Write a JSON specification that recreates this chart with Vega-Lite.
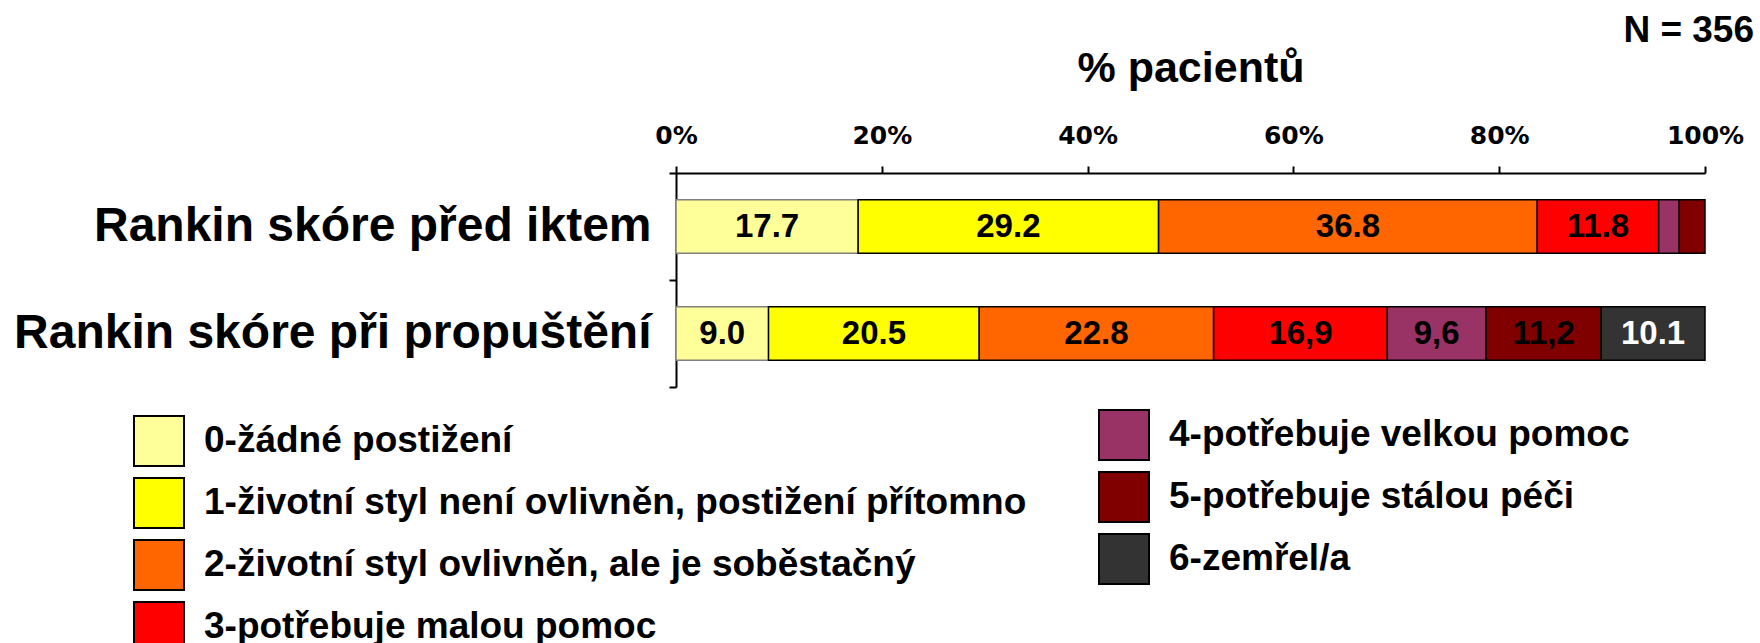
{
  "$schema": "https://vega.github.io/schema/vega-lite/v6.json",
  "autosize": {"type": "none"},
  "width": 1029,
  "height": 214,
  "padding": {"left": 676, "top": 173, "right": 55, "bottom": 256},
  "background": "white",
  "title": {"text": "N = 356", "anchor": "end", "frame": "group", "dx": 49, "dy": 7, "offset": 4, "font": "Liberation Sans", "fontSize": 37, "fontWeight": "bold", "color": "black"},
  "data": {"values": [
    {"row": "Rankin skóre před iktem", "cat": "0-žádné postižení", "value": 17.7, "label": "17.7"},
    {"row": "Rankin skóre před iktem", "cat": "1-životní styl není ovlivněn, postižení přítomno", "value": 29.2, "label": "29.2"},
    {"row": "Rankin skóre před iktem", "cat": "2-životní styl ovlivněn, ale je soběstačný", "value": 36.8, "label": "36.8"},
    {"row": "Rankin skóre před iktem", "cat": "3-potřebuje malou pomoc", "value": 11.8, "label": "11.8"},
    {"row": "Rankin skóre před iktem", "cat": "4-potřebuje velkou pomoc", "value": 2.0, "label": ""},
    {"row": "Rankin skóre před iktem", "cat": "5-potřebuje stálou péči", "value": 2.5, "label": ""},
    {"row": "Rankin skóre při propuštění", "cat": "0-žádné postižení", "value": 9.0, "label": "9.0"},
    {"row": "Rankin skóre při propuštění", "cat": "1-životní styl není ovlivněn, postižení přítomno", "value": 20.5, "label": "20.5"},
    {"row": "Rankin skóre při propuštění", "cat": "2-životní styl ovlivněn, ale je soběstačný", "value": 22.8, "label": "22.8"},
    {"row": "Rankin skóre při propuštění", "cat": "3-potřebuje malou pomoc", "value": 16.9, "label": "16,9"},
    {"row": "Rankin skóre při propuštění", "cat": "4-potřebuje velkou pomoc", "value": 9.6, "label": "9,6"},
    {"row": "Rankin skóre při propuštění", "cat": "5-potřebuje stálou péči", "value": 11.2, "label": "11,2"},
    {"row": "Rankin skóre při propuštění", "cat": "6-zemřel/a", "value": 10.1, "label": "10.1"}
  ]},
  "transform": [
    {"stack": "value", "groupby": ["row"], "sort": [{"field": "cat", "order": "ascending"}], "offset": "normalize", "as": ["x0", "x1"]}
  ],
  "encoding": {
    "y": {
      "field": "row", "type": "nominal",
      "scale": {"domain": ["Rankin skóre před iktem", "Rankin skóre při propuštění"], "paddingInner": 0, "paddingOuter": 0},
      "axis": {"title": null, "labelFont": "Liberation Sans", "labelFontSize": 48, "labelFontWeight": "bold", "labelColor": "black", "labelLimit": 0, "labelPadding": 18, "tickSize": 7, "tickWidth": 2, "tickColor": "black", "domainColor": "black", "domainWidth": 2, "tickBand": "extent"}
    }
  },
  "layer": [
    {
      "transform": [{"filter": {"field": "cat", "oneOf": ["0-žádné postižení", "1-životní styl není ovlivněn, postižení přítomno", "2-životní styl ovlivněn, ale je soběstačný", "3-potřebuje malou pomoc"]}}],
      "mark": {"type": "bar", "height": {"band": 0.5}, "strokeWidth": 1.5},
      "encoding": {
        "x": {
          "field": "x0", "type": "quantitative",
          "scale": {"domain": [0, 1], "nice": false},
          "axis": {"orient": "top", "format": ".0%", "values": [0, 0.2, 0.4, 0.6, 0.8, 1], "grid": false, "title": "% pacientů", "titleFont": "Liberation Sans", "titleFontSize": 43, "titleFontWeight": "bold", "titleColor": "black", "titlePadding": 33, "labelFont": "DejaVu Sans", "labelFontSize": 25, "labelFontWeight": "bold", "labelColor": "black", "labelPadding": 18, "labelFlush": false, "labelOverlap": false, "tickSize": 7, "tickWidth": 2, "tickColor": "black", "domainColor": "black", "domainWidth": 2}
        },
        "x2": {"field": "x1"},
        "fill": {
          "field": "cat", "type": "nominal",
          "scale": {"domain": ["0-žádné postižení", "1-životní styl není ovlivněn, postižení přítomno", "2-životní styl ovlivněn, ale je soběstačný", "3-potřebuje malou pomoc"], "range": ["#FFFF99", "#FFFF00", "#FF6600", "#FF0000"]},
          "legend": {"orient": "none", "legendX": -543, "legendY": 242, "title": null, "direction": "vertical", "padding": 0, "symbolType": "square", "symbolSize": 2500, "symbolStrokeColor": "black", "symbolStrokeWidth": 2, "symbolOpacity": 1, "labelFont": "Liberation Sans", "labelFontSize": 37, "labelFontWeight": "bold", "labelColor": "black", "labelOffset": 19, "labelLimit": 0, "rowPadding": 4}
        },
        "stroke": {"condition": {"test": "datum.cat === '0-žádné postižení'", "value": "#808080"}, "value": "black"}
      }
    },
    {
      "transform": [{"filter": {"field": "cat", "oneOf": ["4-potřebuje velkou pomoc", "5-potřebuje stálou péči", "6-zemřel/a"]}}],
      "mark": {"type": "bar", "height": {"band": 0.5}, "strokeWidth": 1.5, "stroke": "black"},
      "encoding": {
        "x": {
          "field": "x0", "type": "quantitative",
          "axis": {"orient": "top", "format": ".0%", "values": [0, 0.2, 0.4, 0.6, 0.8, 1], "grid": false, "title": "% pacientů", "titleFont": "Liberation Sans", "titleFontSize": 43, "titleFontWeight": "bold", "titleColor": "black", "titlePadding": 33, "labelFont": "DejaVu Sans", "labelFontSize": 25, "labelFontWeight": "bold", "labelColor": "black", "labelPadding": 18, "labelFlush": false, "labelOverlap": false, "tickSize": 7, "tickWidth": 2, "tickColor": "black", "domainColor": "black", "domainWidth": 2}
        },
        "x2": {"field": "x1"},
        "fill": {
          "field": "cat", "type": "nominal",
          "scale": {"domain": ["4-potřebuje velkou pomoc", "5-potřebuje stálou péči", "6-zemřel/a"], "range": ["#993366", "#800000", "#333333"]},
          "legend": {"orient": "none", "legendX": 422, "legendY": 236, "title": null, "direction": "vertical", "padding": 0, "symbolType": "square", "symbolSize": 2500, "symbolStrokeColor": "black", "symbolStrokeWidth": 2, "symbolOpacity": 1, "labelFont": "Liberation Sans", "labelFontSize": 37, "labelFontWeight": "bold", "labelColor": "black", "labelOffset": 19, "labelLimit": 0, "rowPadding": 4}
        }
      }
    },
    {
      "mark": {"type": "text", "font": "Liberation Sans", "fontSize": 33, "fontWeight": "bold", "align": "center", "baseline": "middle"},
      "encoding": {
        "x": {
          "field": "value", "type": "quantitative", "stack": "normalize", "bandPosition": 0.5,
          "axis": {"orient": "top", "format": ".0%", "values": [0, 0.2, 0.4, 0.6, 0.8, 1], "grid": false, "title": "% pacientů", "titleFont": "Liberation Sans", "titleFontSize": 43, "titleFontWeight": "bold", "titleColor": "black", "titlePadding": 33, "labelFont": "DejaVu Sans", "labelFontSize": 25, "labelFontWeight": "bold", "labelColor": "black", "labelPadding": 18, "labelFlush": false, "labelOverlap": false, "tickSize": 7, "tickWidth": 2, "tickColor": "black", "domainColor": "black", "domainWidth": 2}
        },
        "detail": {"field": "cat", "type": "nominal"},
        "order": {"field": "cat", "type": "ordinal", "sort": "ascending"},
        "text": {"field": "label"},
        "color": {"condition": {"test": "datum.cat === '6-zemřel/a'", "value": "white"}, "value": "black"}
      }
    }
  ],
  "resolve": {"scale": {"fill": "independent"}, "legend": {"fill": "independent"}},
  "config": {"view": {"stroke": null}}
}
